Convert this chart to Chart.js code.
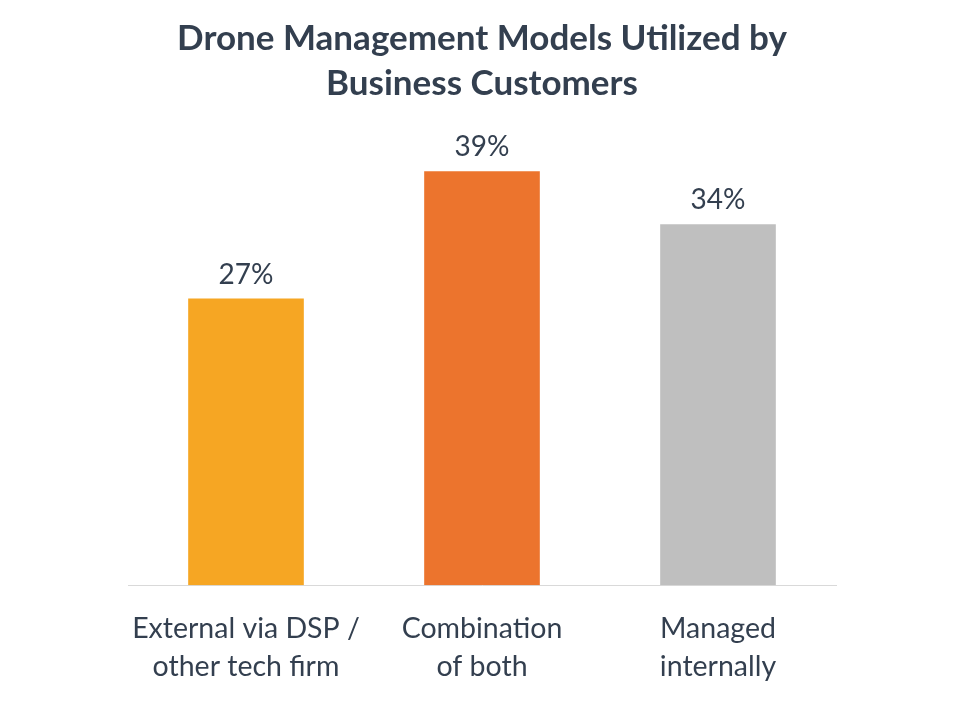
<!DOCTYPE html>
<html>
<head>
<meta charset="utf-8">
<script src="https://cdn.jsdelivr.net/npm/chart.js@4"></script>
<style>
  html, body { margin: 0; padding: 0; background: #ffffff; }
  #wrap { width: 960px; height: 720px; }
</style>
</head>
<body>
<div id="wrap"><canvas id="c" width="960" height="720"></canvas></div>
<script>
const categories = [["External via DSP /", "other tech firm"], ["Combination", "of both"], ["Managed", "internally"]];
const values = [27, 39, 34];
const barColors = ["#F6A623", "#EC742D", "#BFBFBF"];
const titleLines = ["Drone Management Models Utilized by", "Business Customers"];

const textColor = "#333F4F";
const fontFamily = "Lato, 'Open Sans', sans-serif";

const dataLabels = {
  id: "dataLabels",
  afterDatasetsDraw(chart) {
    const ctx = chart.ctx;
    const meta = chart.getDatasetMeta(0);
    ctx.save();
    ctx.fillStyle = textColor;
    ctx.font = "28px " + fontFamily;
    ctx.textAlign = "center";
    ctx.textBaseline = "alphabetic";
    meta.data.forEach((bar, i) => {
      ctx.fillText(values[i] + "%", bar.x, bar.y - 15);
    });
    ctx.restore();
  }
};

new Chart(document.getElementById("c"), {
  type: "bar",
  data: {
    labels: categories,
    datasets: [{
      data: values,
      backgroundColor: barColors,
      borderWidth: 0,
      categoryPercentage: 1.0,
      barPercentage: 0.49
    }]
  },
  options: {
    responsive: false,
    animation: false,
    layout: { padding: { left: 128, right: 124, top: 10, bottom: 9 } },
    plugins: {
      legend: { display: false },
      tooltip: { enabled: false },
      title: {
        display: true,
        text: titleLines,
        color: textColor,
        font: { family: fontFamily, size: 35, weight: "bold", lineHeight: 1.29 },
        padding: { top: 6, bottom: 16 }
      }
    },
    scales: {
      x: {
        grid: { display: false, drawTicks: false },
        border: { display: true, color: "#D9D9D9", width: 1 },
        ticks: {
          color: textColor,
          font: { family: fontFamily, size: 28.5, lineHeight: 1.33 },
          padding: 25,
          maxRotation: 0,
          autoSkip: false
        }
      },
      y: {
        display: false,
        min: 0,
        max: 43.6
      }
    }
  },
  plugins: [dataLabels]
});
</script>
</body>
</html>
